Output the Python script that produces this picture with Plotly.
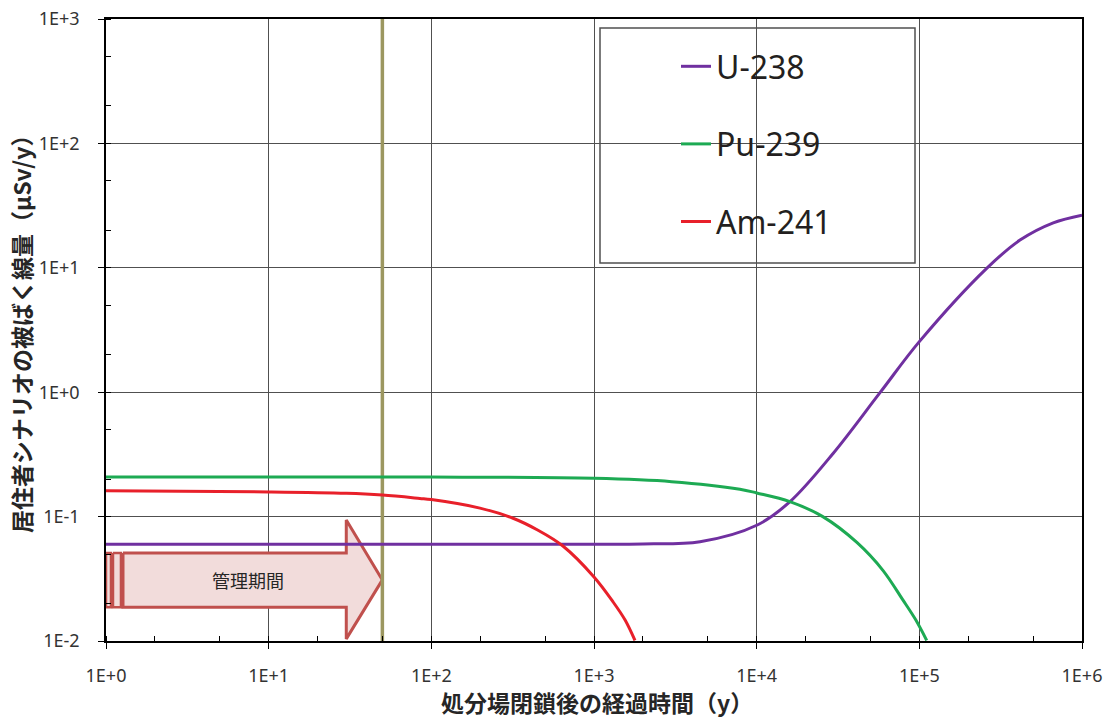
import numpy as np
import plotly.graph_objects as go

# ---- data ----
t_u238 = [1, 100, 1000, 2000, 4487, 10090, 16030, 29580, 57300, 100000, 259400, 415700, 665600, 1000000]
dose_u238 = [0.06, 0.06, 0.06, 0.0603, 0.0628, 0.0856, 0.1318, 0.323, 0.991, 2.55, 9.9, 16.7, 23.0, 26.5]

t_pu239 = [1, 10, 100, 1000, 3000, 7890, 10000, 16000, 25500, 41300, 59700, 79000, 95000, 111000]
dose_pu239 = [0.208, 0.208, 0.208, 0.203, 0.191, 0.166, 0.155, 0.132, 0.1, 0.062, 0.037, 0.0215, 0.0148, 0.0101]

t_am241 = [1, 10, 30, 50, 85, 100, 199, 318, 450, 644, 1000, 1307, 1550, 1786]
dose_am241 = [0.161, 0.158, 0.154, 0.149, 0.140, 0.137, 0.117, 0.097, 0.078, 0.058, 0.0327, 0.0207, 0.0148, 0.0101]

series_names = ["U-238", "Pu-239", "Am-241"]
series_colors = ["#7030a0", "#1daa53", "#e8202a"]

management_end = 50          # years (vertical line / arrow tip)
arrow_head_start = 30        # years
arrow_body_start = 1.272
arrow_label = "管理期間"
arrow_label_x = 7.5
arrow_body_y = [0.0187, 0.051]
arrow_head_y = [0.0104, 0.094]
arrow_tip_y = 0.031
stripe_x = [[1.0, 1.073], [1.104, 1.236]]

x_tickvals = [1, 10, 100, 1000, 10000, 100000, 1000000]
x_ticktext = ["1E+0", "1E+1", "1E+2", "1E+3", "1E+4", "1E+5", "1E+6"]
y_tickvals = [0.01, 0.1, 1, 10, 100, 1000]
y_ticktext = ["1E-2", "1E-1", "1E+0", "1E+1", "1E+2", "1E+3"]

x_title = "処分場閉鎖後の経過時間（y）"
y_title = "居住者シナリオの被ばく線量（μSv/y）"

fig = go.Figure()

# management-period arrow (callout)
ax = [arrow_body_start, arrow_head_start, arrow_head_start, management_end,
      arrow_head_start, arrow_head_start, arrow_body_start, arrow_body_start]
ay = [arrow_body_y[1], arrow_body_y[1], arrow_head_y[1], arrow_tip_y,
      arrow_head_y[0], arrow_body_y[0], arrow_body_y[0], arrow_body_y[1]]
fig.add_trace(go.Scatter(x=ax, y=ay, mode="lines", fill="toself",
                         fillcolor="#f2dcdb", line=dict(color="#c0504d", width=3),
                         showlegend=False, hoverinfo="skip"))
for sx in stripe_x:
    fig.add_trace(go.Scatter(x=[sx[0], sx[1], sx[1], sx[0], sx[0]],
                             y=[arrow_body_y[1], arrow_body_y[1], arrow_body_y[0], arrow_body_y[0], arrow_body_y[1]],
                             mode="lines", fill="toself", fillcolor="#f2dcdb",
                             line=dict(color="#c0504d", width=2.5),
                             showlegend=False, hoverinfo="skip"))

# vertical line at end of management period
fig.add_trace(go.Scatter(x=[management_end, management_end], y=[y_tickvals[0], y_tickvals[-1]],
                         mode="lines", line=dict(color="#9c9760", width=3.5),
                         showlegend=False, hoverinfo="skip"))

for name, tx, dy, col in zip(series_names, [t_u238, t_pu239, t_am241],
                             [dose_u238, dose_pu239, dose_am241], series_colors):
    fig.add_trace(go.Scatter(x=tx, y=dy, mode="lines", name=name, legendgroup=name,
                             line=dict(color=col, width=3, shape="spline", smoothing=1.0)))

fig.add_annotation(x=np.log10(arrow_label_x), y=np.log10(arrow_tip_y), xref="x", yref="y",
                   text=arrow_label, showarrow=False,
                   font=dict(family="Noto Sans CJK JP", size=18, color="#262626"))

# axis titles
fig.add_annotation(x=(597 - 106) / 976, y=-(702 - 641) / 622, xref="paper", yref="paper",
                   xanchor="center", yanchor="middle", text=x_title, showarrow=False,
                   font=dict(family="Noto Sans CJK JP", size=23, color="#262626", weight="bold"))
fig.add_annotation(x=(21 - 106) / 976, y=(641 - 329) / 622, xref="paper", yref="paper",
                   xanchor="center", yanchor="middle", text=y_title, showarrow=False, textangle=-90,
                   font=dict(family="Noto Sans CJK JP", size=23, color="#262626", weight="bold"))

# legend frame
fig.add_shape(type="rect", xref="paper", yref="paper",
              x0=(600 - 106) / 976, x1=(915 - 106) / 976,
              y0=(641 - 263) / 622, y1=(641 - 28) / 622,
              line=dict(color="#505050", width=1.5), fillcolor="white", layer="below")

tick_font = dict(family="Noto Sans", size=18, color="#333333")

axis_common = dict(
    type="log", showline=True, linecolor="black", linewidth=1.5, mirror=True,
    showgrid=True, gridcolor="#505050", gridwidth=1,
    ticks="outside", ticklen=6, tickcolor="black", tickwidth=1,
    minor=dict(ticks="inside", ticklen=5, tickcolor="black", tickwidth=1, showgrid=False),
    zeroline=False, automargin=False,
)

fig.update_layout(
    width=1107, height=719,
    margin=dict(l=106, r=25, t=19, b=78),
    paper_bgcolor="white", plot_bgcolor="white",
    xaxis=dict(axis_common, range=[0, 6], tickmode="array", tickvals=x_tickvals, ticktext=x_ticktext,
               tickfont=tick_font, ticklabelstandoff=12),
    yaxis=dict(axis_common, range=[-2, 3], tickmode="array", tickvals=y_tickvals, ticktext=y_ticktext,
               tickfont=tick_font, ticklabelstandoff=15),
    legend=dict(x=(676 - 106) / 976, y=(641 - 39) / 622, xanchor="left", yanchor="top",
                bgcolor="rgba(0,0,0,0)", borderwidth=0, tracegroupgap=33,
                font=dict(family="Noto Sans", size=32, color="#231f20")),
    showlegend=True,
)

fig.write_html("out.html")
